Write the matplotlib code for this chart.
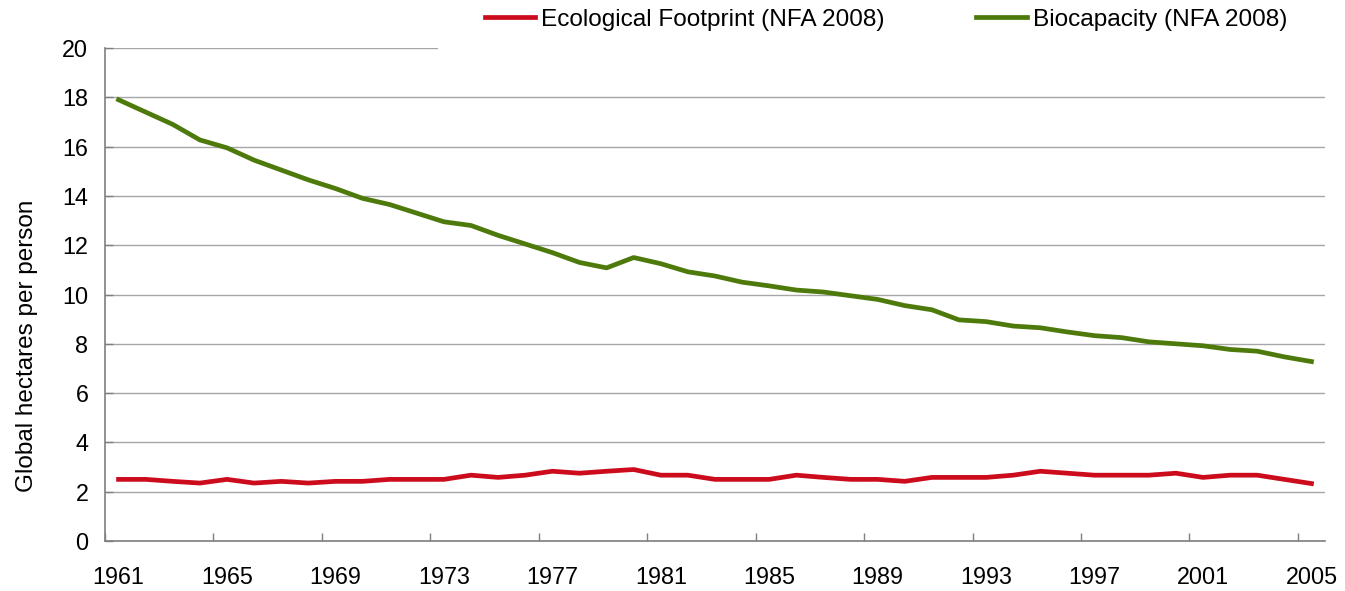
import matplotlib
matplotlib.use("Agg")
import matplotlib.pyplot as plt
from matplotlib.patches import Rectangle
import numpy as np

years = list(range(1961, 2006))
footprint = [2.50, 2.50, 2.42, 2.35, 2.50, 2.35, 2.42, 2.35, 2.42, 2.42,
             2.50, 2.50, 2.50, 2.67, 2.58, 2.67, 2.83, 2.75, 2.83, 2.90,
             2.67, 2.67, 2.50, 2.50, 2.50, 2.67, 2.58, 2.50, 2.50, 2.42,
             2.58, 2.58, 2.58, 2.67, 2.83, 2.75, 2.67, 2.67, 2.67, 2.75,
             2.58, 2.67, 2.67, 2.50, 2.33]
biocapacity = [17.90, 17.40, 16.90, 16.27, 15.95, 15.45, 15.05, 14.65, 14.30, 13.90,
               13.65, 13.30, 12.95, 12.80, 12.40, 12.05, 11.70, 11.30, 11.08, 11.50,
               11.25, 10.92, 10.75, 10.50, 10.35, 10.18, 10.10, 9.95, 9.80, 9.55,
               9.38, 8.97, 8.90, 8.72, 8.65, 8.48, 8.33, 8.25, 8.08, 8.00,
               7.92, 7.77, 7.70, 7.47, 7.28]
label_years = years[::4]
series_labels = ["Ecological Footprint (NFA 2008)", "Biocapacity (NFA 2008)"]
y_ticks = list(range(0, 21, 2))

plt.rcParams['font.family'] = ['Liberation Sans', 'DejaVu Sans']

W, H = 1345, 591
fig = plt.figure(figsize=(W / 100, H / 100), dpi=100)
L, R, B, T = 105, 1325, 541, 48
ax = fig.add_axes([L / W, 1 - B / H, (R - L) / W, (B - T) / H])

red = "#CC0C1C"
green = "#4E7A0C"
ax.plot(years, footprint, color=red, lw=3.4, label=series_labels[0], zorder=3,
        solid_joinstyle='round')
ax.plot(years, biocapacity, color=green, lw=3.4, label=series_labels[1], zorder=3,
        solid_joinstyle='round')

ax.set_xlim(years[0] - 0.5, years[-1] + 0.5)
ax.set_ylim(0, 20)
ax.set_yticks(y_ticks)
ax.yaxis.grid(True, color="#A6A6A6", lw=1.0)
ax.set_axisbelow(True)

# category boundaries as major ticks, labels at category centres as minor ticks
ax.set_xticks([y - 0.5 for y in label_years])
ax.set_xticklabels([])
ax.set_xticks(label_years, minor=True)
ax.set_xticklabels([str(y) for y in label_years], minor=True)
ax.tick_params(axis='x', which='major', direction='in', length=6, width=1, color="#7F7F7F")
ax.tick_params(axis='x', which='minor', length=0, pad=18, labelsize=16.8)
ax.tick_params(axis='y', direction='in', length=6, width=1, color="#7F7F7F",
               pad=12, labelsize=16.8)

for s in ['top', 'right']:
    ax.spines[s].set_visible(False)
for s in ['left', 'bottom']:
    ax.spines[s].set_color("#7F7F7F")
    ax.spines[s].set_linewidth(1.2)

ax.set_ylabel("Global hectares per person", fontsize=17.5)
ax.yaxis.set_label_coords(-0.055, 0.395)

# white legend area covering the top gridline
ax.add_patch(Rectangle((438 / W, 1 - 52 / H), 1 - 438 / W, 52 / H,
                       transform=fig.transFigure, facecolor="white",
                       edgecolor="none", clip_on=False, zorder=2.5))

fig.legend(loc='center left', bbox_to_anchor=(485 / W, 1 - 20 / H),
           ncol=2, frameon=False, fontsize=17.6, borderpad=0, borderaxespad=0,
           handlelength=2.05, handletextpad=0.25, columnspacing=3.75)

fig.savefig("out.png", dpi=100)
